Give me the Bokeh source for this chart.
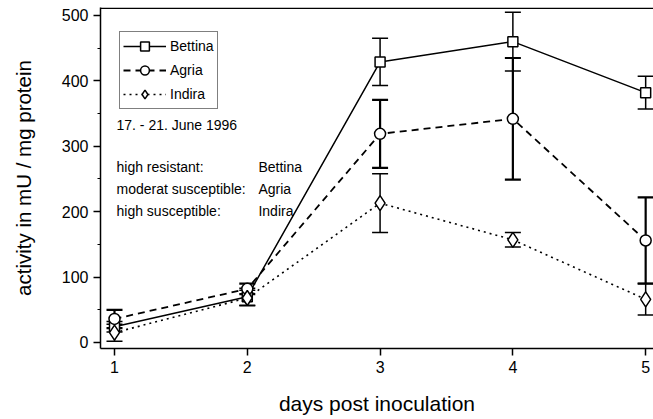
from bokeh.plotting import figure
from bokeh.models import (ColumnDataSource, Whisker, TeeHead, Legend, LegendItem,
                          Label, Span, FixedTicker, SingleIntervalTicker, Range1d)
from bokeh.embed import file_html
from bokeh.resources import INLINE

# ---- data ----
days = [1, 2, 3, 4, 5]
bettina = [24, 70, 429, 460, 382]
bettina_err = [8, 13, 36, 45, 25]
agria = [36, 82, 319, 342, 156]
agria_err = [14, 8, 52, 93, 66]
indira = [15, 68, 213, 157, 66]
indira_err = [13, 12, 45, 11, 24]
x_ticks = [1, 2, 3, 4, 5]
y_ticks = [0, 100, 200, 300, 400, 500]
date_text = "17. - 21. June 1996"
class_labels = ["high resistant:", "moderat susceptible:", "high susceptible:"]
class_names = ["Bettina", "Agria", "Indira"]

FONT = "Liberation Sans"

p = figure(width=653, height=419, output_backend="svg", toolbar_location=None,
           x_range=Range1d(0.8946, 5.059), y_range=Range1d(-9.2, 512.2),
           min_border_left=100, min_border_right=0, min_border_top=7, min_border_bottom=71,
           outline_line_color=None, background_fill_color="white", border_fill_color="white")
p.grid.visible = False

def src(v, e):
    return ColumnDataSource(dict(x=days, y=v, lo=[a - b for a, b in zip(v, e)],
                                 hi=[a + b for a, b in zip(v, e)]))

sb, sa, si = src(bettina, bettina_err), src(agria, agria_err), src(indira, indira_err)

for s, w in ((sb, 1.5), (sa, 2.2), (si, 1.5)):
    p.add_layout(Whisker(source=s, base="x", upper="hi", lower="lo", line_color="black",
                         line_width=w,
                         upper_head=TeeHead(size=16, line_width=w, line_color="black"),
                         lower_head=TeeHead(size=16, line_width=w, line_color="black")))

lb = p.line("x", "y", source=sb, line_color="black", line_width=1.5)
la = p.line("x", "y", source=sa, line_color="black", line_width=1.8, line_dash="7 5")
li = p.line("x", "y", source=si, line_color="black", line_width=1.6, line_dash="2 4")
mb = p.scatter("x", "y", source=sb, marker="square", size=10, fill_color="white",
               line_color="black", line_width=1.5)
ma = p.scatter("x", "y", source=sa, marker="circle", size=11, fill_color="white",
               line_color="black", line_width=1.5)
mi = p.scatter("x", "y", source=si, marker="diamond", size=15, fill_color="white",
               line_color="black", line_width=1.5)

legend = Legend(items=[LegendItem(label=class_names[0], renderers=[lb, mb]),
                       LegendItem(label=class_names[1], renderers=[la, ma]),
                       LegendItem(label=class_names[2], renderers=[li, mi])],
                location=(19, 239), border_line_color="black", border_line_width=1.5,
                background_fill_alpha=1, padding=3, spacing=2, label_height=22,
                glyph_height=22, glyph_width=43, label_standoff=4, margin=0,
                label_text_font=FONT, label_text_font_size="14px", label_text_color="black")
p.add_layout(legend, "center")

p.add_layout(Label(x=1.015, y=331.8, text=date_text, text_font=FONT, text_font_size="14px",
                   text_baseline="middle", text_color="black"))
for lab, name, yy in zip(class_labels, class_names, [267.6, 235.4, 201.8]):
    p.add_layout(Label(x=1.015, y=yy, text=lab, text_font=FONT, text_font_size="14px",
                       text_baseline="middle", text_color="black"))
    p.add_layout(Label(x=2.084, y=yy, text=name, text_font=FONT, text_font_size="14px",
                       text_baseline="middle", text_color="black"))

p.add_layout(Span(location=511.2, dimension="width", line_color="black", line_width=1.5))

p.xaxis.ticker = FixedTicker(ticks=x_ticks, minor_ticks=[])
p.yaxis.ticker = SingleIntervalTicker(interval=100, num_minor_ticks=2)
p.xaxis.axis_label = "days post inoculation"
p.yaxis.axis_label = "activity in mU / mg protein"
for ax in (p.xaxis[0], p.yaxis[0]):
    ax.axis_line_width = 1.5
    ax.axis_line_color = "black"
    ax.major_tick_line_width = 1.5
    ax.major_tick_line_color = "black"
    ax.major_tick_out = 7
    ax.major_tick_in = 0
    ax.minor_tick_out = 3
    ax.minor_tick_in = 0
    ax.minor_tick_line_color = "black"
    ax.major_label_text_font = FONT
    ax.major_label_text_font_size = "16px"
    ax.major_label_text_color = "black"
    ax.axis_label_text_font = FONT
    ax.axis_label_text_font_style = "normal"
    ax.axis_label_text_color = "black"
    ax.major_label_standoff = 5
p.xaxis.axis_label_text_font_size = "21px"
p.yaxis.axis_label_text_font_size = "20.5px"
p.xaxis.axis_label_standoff = 16
p.yaxis.axis_label_standoff = 24

open("out.html", "w").write(file_html(p, INLINE))
